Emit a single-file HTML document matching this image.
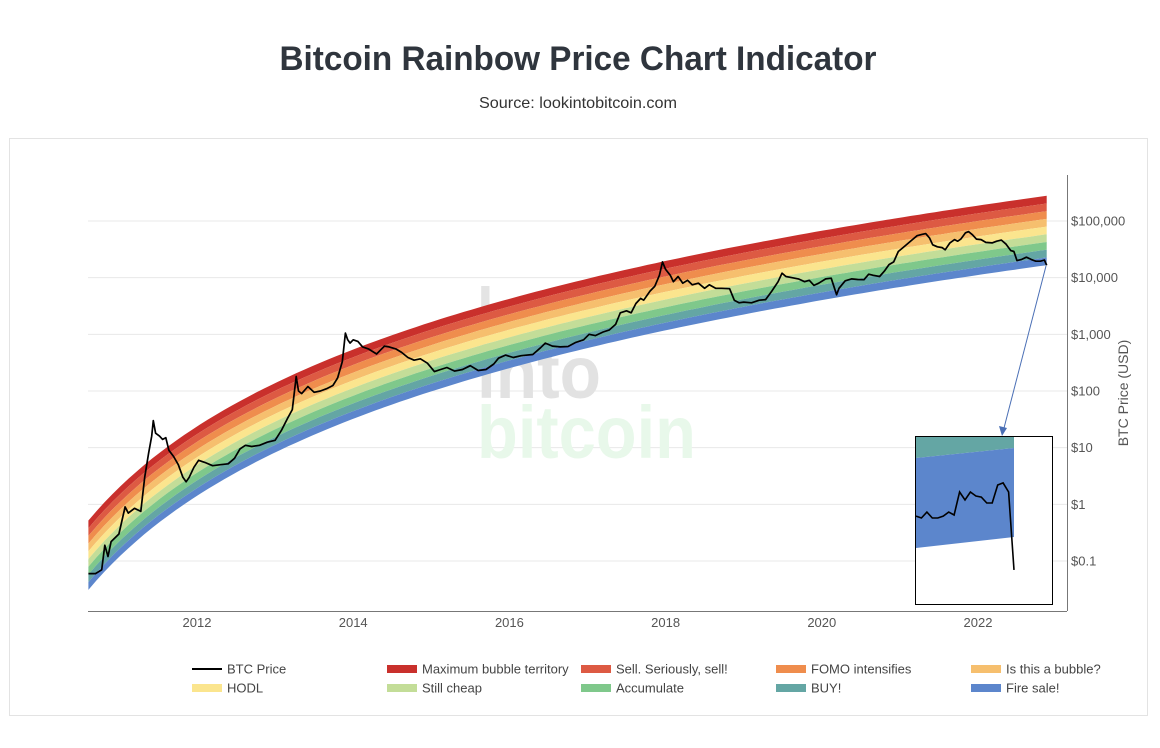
<!DOCTYPE html>
<html><head><meta charset="utf-8"><style>
body{margin:0;background:#fff;}
svg{display:block;font-family:"Liberation Sans",sans-serif;}
</style></head><body>
<svg id="c" width="1160" height="748" viewBox="0 0 1160 748" xmlns="http://www.w3.org/2000/svg">
<text x="578" y="70" text-anchor="middle" font-size="34" font-weight="bold" fill="#2f353d" textLength="597" lengthAdjust="spacingAndGlyphs">Bitcoin Rainbow Price Chart Indicator</text>
<text x="578" y="108" text-anchor="middle" font-size="16" fill="#333" textLength="198" lengthAdjust="spacingAndGlyphs">Source: lookintobitcoin.com</text>
<rect x="9.5" y="138.5" width="1138" height="577" fill="#fff" stroke="#e3e3e3"/>
<g id="grid"></g>
<g font-weight="bold" font-size="74">
<text x="477" y="340" fill="#e4e4e4" textLength="124" lengthAdjust="spacingAndGlyphs">look</text>
<text x="477" y="398" fill="#e2e2e2" textLength="124" lengthAdjust="spacingAndGlyphs">into</text>
<text x="477" y="458" fill="#e8f8ea" textLength="219" lengthAdjust="spacingAndGlyphs">bitcoin</text>
</g>
<g id="bands"></g>
<g id="price"></g>
<g id="axes"></g>
<g id="inset"></g>
<g id="legend"></g>
</svg>
<script>
const yTicks=[100000,10000,1000,100,10,1,0.1];
const yTickLabels=["$100,000","$10,000","$1,000","$100","$10","$1","$0.1"];
const xTicks=[2012,2014,2016,2018,2020,2022];
const bandNames=["Maximum bubble territory","Sell. Seriously, sell!","FOMO intensifies","Is this a bubble?","HODL","Still cheap","Accumulate","BUY!","Fire sale!"];
const bandColors=["#c9302c","#dd5a43","#ef8d4d","#f6bf6e","#fbe58e","#c3dd98","#7fc88b","#64a6a4","#5c86cc"];
const priceDates=[2010.61,2010.7,2010.78,2010.82,2010.86,2010.9,2011.0,2011.08,2011.12,2011.2,2011.28,2011.33,2011.38,2011.42,2011.44,2011.47,2011.52,2011.56,2011.6,2011.64,2011.7,2011.76,2011.82,2011.86,2011.9,2011.96,2012.02,2012.1,2012.2,2012.3,2012.4,2012.48,2012.55,2012.62,2012.7,2012.8,2012.9,2013.0,2013.08,2013.16,2013.22,2013.27,2013.3,2013.34,2013.42,2013.5,2013.58,2013.66,2013.74,2013.8,2013.86,2013.9,2013.93,2013.96,2014.0,2014.06,2014.12,2014.2,2014.3,2014.4,2014.46,2014.55,2014.62,2014.7,2014.78,2014.86,2014.95,2015.04,2015.12,2015.2,2015.3,2015.4,2015.5,2015.6,2015.7,2015.8,2015.86,2015.95,2016.05,2016.15,2016.3,2016.4,2016.46,2016.55,2016.65,2016.75,2016.85,2016.95,2017.02,2017.1,2017.2,2017.28,2017.36,2017.42,2017.5,2017.56,2017.62,2017.68,2017.72,2017.8,2017.86,2017.92,2017.96,2018.0,2018.06,2018.1,2018.16,2018.22,2018.28,2018.34,2018.42,2018.5,2018.56,2018.64,2018.72,2018.82,2018.88,2018.94,2019.0,2019.1,2019.2,2019.28,2019.36,2019.44,2019.49,2019.54,2019.62,2019.7,2019.78,2019.84,2019.9,2019.96,2020.05,2020.12,2020.19,2020.22,2020.3,2020.38,2020.46,2020.54,2020.6,2020.66,2020.74,2020.8,2020.86,2020.92,2020.98,2021.04,2021.1,2021.16,2021.22,2021.28,2021.33,2021.38,2021.42,2021.48,2021.54,2021.58,2021.64,2021.7,2021.74,2021.78,2021.84,2021.88,2021.93,2021.98,2022.04,2022.1,2022.18,2022.24,2022.3,2022.36,2022.42,2022.46,2022.5,2022.56,2022.62,2022.68,2022.74,2022.8,2022.85,2022.88];
const priceValues=[0.06,0.06,0.07,0.19,0.12,0.22,0.3,0.9,0.7,0.85,0.75,3,8,16,30,18,16,14,15,9,7,5,3,2.5,3,4.5,6,5.5,4.8,5,5.2,6.5,9.5,11,10.5,11,12.5,13.5,20,33,47,180,100,90,120,95,100,110,125,170,330,1050,800,700,800,750,600,550,450,620,600,550,480,390,350,370,310,220,240,260,225,240,280,230,240,300,380,430,390,420,440,580,700,620,600,610,720,800,1000,950,1100,1200,1500,2400,2600,2400,3500,4300,4000,5800,7000,11000,19000,14000,11000,8500,10500,8000,9000,7500,8000,6500,7500,6500,6500,6400,4000,3600,3700,3600,4000,4100,5800,8500,12000,10500,10000,9500,8500,9000,7300,8000,9500,9800,5000,6500,8800,9500,9300,9200,11500,11000,10500,13000,17000,19000,29000,34000,40000,47000,55000,58000,60000,50000,38000,35000,34000,31000,41000,47000,44000,48000,62000,65000,57000,48000,47000,42000,41000,44000,46000,39000,30000,29000,20000,21000,23000,21000,19500,19500,20500,16500];
const insetValues=[19.21,19.12,19.4,19.12,19.12,19.21,19.4,19.26,20.35,19.97,20.35,20.16,20.11,19.83,19.83,20.68,20.78,20.35,16.66];

const NS="http://www.w3.org/2000/svg";
function mk(tag,attrs,parent){const e=document.createElementNS(NS,tag);for(const k in attrs)e.setAttribute(k,attrs[k]);parent.appendChild(e);return e;}
const X0=88,X1=1067,Y0=175,Y1=611;
const xs=yr=>197+(yr-2012)*78.1;
const ys=v=>221+(5-Math.log10(v))*56.67;
const ysL=l=>221+(5-l)*56.67;
const START=2010.61,END=2022.88,GEN=2009.01;
const bottomLog=yr=>2.653*Math.log((yr-GEN)*365.25)-18.41;
const BW=0.136;

const grid=document.getElementById('grid');
yTicks.forEach((v,i)=>{
 const l=mk('line',{x1:X0,x2:X1,y1:ys(v),y2:ys(v),stroke:'#e8e8e8'},grid);
 
 
});

const bands=document.getElementById('bands');
for(let k=0;k<9;k++){
 const lo=8-k;
 let top=[],bot=[];
 for(let i=0;i<=120;i++){const yr=START+(END-START)*i/120;const b=bottomLog(yr);top.push(xs(yr).toFixed(1)+','+ysL(b+(lo+1)*BW).toFixed(1));bot.push(xs(yr).toFixed(1)+','+ysL(b+lo*BW).toFixed(1));}
 const p=mk('polygon',{points:top.concat(bot.reverse()).join(' '),fill:bandColors[k]},bands);
 
 
}

const price=document.getElementById('price');
const pl=mk('polyline',{points:priceDates.map((d,i)=>xs(d).toFixed(1)+','+ys(priceValues[i]).toFixed(1)).join(' '),fill:'none',stroke:'#000','stroke-width':1.7,'stroke-linejoin':'round'},price);



const axes=document.getElementById('axes');
const xa=mk('line',{x1:X0,x2:X1,y1:Y1+0.5,y2:Y1+0.5,stroke:'#777'},axes);


const ya=mk('line',{x1:X1+0.5,x2:X1+0.5,y1:Y0,y2:Y1,stroke:'#777'},axes);


yTicks.forEach((v,i)=>{
 const t=mk('text',{x:1071,y:ys(v)+4.5,'font-size':13,fill:'#555'},axes);t.textContent=yTickLabels[i];
 
 
});
xTicks.forEach(yr=>{
 const t=mk('text',{x:xs(yr),y:627,'font-size':13,fill:'#555','text-anchor':'middle'},axes);t.textContent=yr;
 
 
});
const at=mk('text',{x:1128,y:393,'font-size':14,fill:'#555','text-anchor':'middle',transform:'rotate(-90 1128 393)'},axes);at.textContent='BTC Price (USD)';



const inset=document.getElementById('inset');
const ib=mk('rect',{x:915.5,y:436.5,width:137,height:168,fill:'#fff',stroke:'#000'},inset);


const it=mk('polygon',{points:'916,437 1014,437 1014,448 916,458',fill:'#64a6a4'},inset);


const ibl=mk('polygon',{points:'916,458 1014,448 1014,537 916,548',fill:'#5c86cc'},inset);


const iy=v=>605-(v-15)*169/8;
const ix=i=>916+i*(1014-916)/(insetValues.length-1);
const ipl=mk('polyline',{points:insetValues.map((v,i)=>ix(i).toFixed(1)+','+iy(v).toFixed(1)).join(' '),fill:'none',stroke:'#000','stroke-width':1.6},inset);


const arr=mk('line',{x1:1046,y1:266,x2:1004,y2:428,stroke:'#4a6fb5','stroke-width':1},inset);


const ah=mk('polygon',{points:'1002,436 999,426 1007,428',fill:'#4a6fb5'},inset);



const legend=document.getElementById('legend');
const names=["BTC Price"].concat(bandNames);
const cols=["#000"].concat(bandColors);
const colX=[192,387,581,776,971];
names.forEach((n,i)=>{
 const r=Math.floor(i/5),c=i%5,y=669+r*19;
 const g=mk('g',{},legend);
 
 
 if(i===0)mk('rect',{x:colX[c],y:y-1,width:30,height:2,fill:'#000'},g);
 else mk('rect',{x:colX[c],y:y-4,width:30,height:8,fill:cols[i]},g);
 const t=mk('text',{x:colX[c]+35,y:y+4.5,'font-size':13,fill:'#444'},g);t.textContent=n;
});
</script>
</body></html>
